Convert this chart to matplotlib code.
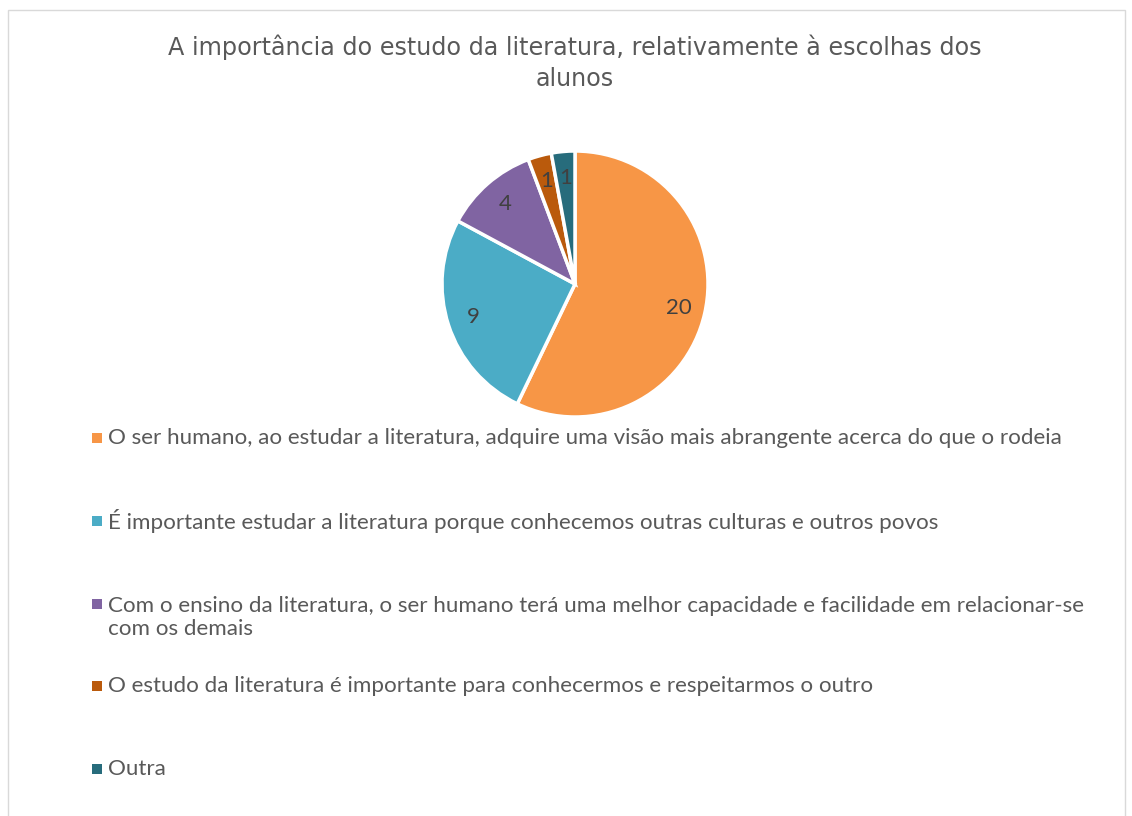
import matplotlib
matplotlib.use("Agg")
import matplotlib.pyplot as plt
from matplotlib.patches import Rectangle

title = "A importância do estudo da literatura, relativamente à escolhas dos\nalunos"
categories = [
    "O ser humano, ao estudar a literatura, adquire uma visão mais abrangente acerca do que o rodeia",
    "É importante estudar a literatura porque conhecemos outras culturas e outros povos",
    "Com o ensino da literatura, o ser humano terá uma melhor capacidade e facilidade em relacionar-se\ncom os demais",
    "O estudo da literatura é importante para conhecermos e respeitarmos o outro",
    "Outra",
]
values = [20, 9, 4, 1, 1]
colors = ["#F79646", "#4BACC6", "#8064A2", "#BA5A0C", "#276C7C"]

W, H = 1132, 816
fig = plt.figure(figsize=(W / 100, H / 100), dpi=100)
fig.patch.set_facecolor("white")

# chart frame
fig.patches.append(Rectangle((8 / W, -0.01), (1125 - 8) / W, 1 - 10 / H + 0.01,
                             transform=fig.transFigure, fill=False,
                             edgecolor="#D9D9D9", linewidth=1.0))

txtcol = "#595959"
fig.text(575 / W, 1 - 63 / H, title, ha="center", va="center", fontsize=17.2,
         color=txtcol, family="DejaVu Sans", linespacing=1.35)

# pie
cx, cy, r = 575, 284, 133
ax = fig.add_axes([(cx - r) / W, 1 - (cy + r) / H, 2 * r / W, 2 * r / H])
wedges, texts = ax.pie(values, colors=colors, startangle=90, counterclock=False,
                       labels=[str(v) for v in values], labeldistance=0.8,
                       wedgeprops=dict(edgecolor="white", linewidth=2.5),
                       textprops=dict(fontsize=16, color="#404040", family="Lato"))
for t in texts:
    t.set_ha("center")
    t.set_va("center")
ax.set_xlim(-1, 1)
ax.set_ylim(-1, 1)
ax.set_aspect("equal")
ax.axis("off")

# legend
legend_y = [438, 521, 617.5, 686, 769]
for cat, col, y, w in zip(categories, colors, legend_y, wedges):
    nlines = cat.count("\n") + 1
    ym = y - (nlines - 1) * 13.5
    fig.patches.append(Rectangle((92 / W, 1 - (ym + 5) / H), 10 / W, 10 / H,
                                 transform=fig.transFigure, facecolor=w.get_facecolor(),
                                 edgecolor="none"))
    fig.text(108 / W, 1 - y / H, cat, ha="left", va="center", fontsize=16.1,
             color=txtcol, family="Lato", linespacing=1.2)

fig.savefig("out.png", dpi=100)
